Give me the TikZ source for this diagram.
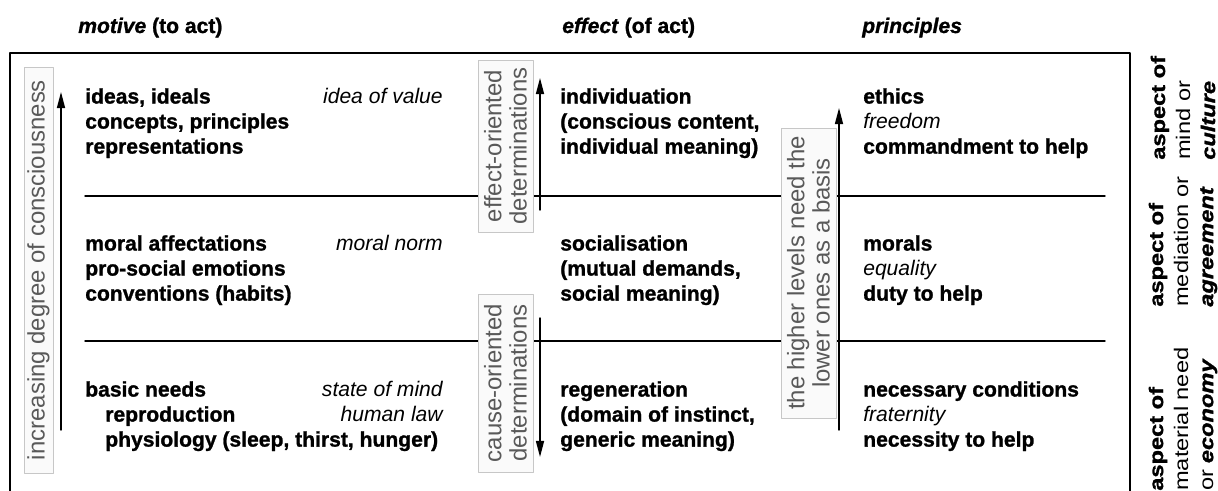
\documentclass[tikz,border=0pt]{standalone}
\usepackage{fontspec}
\usepackage{graphicx}
\setmainfont{Liberation Sans}[BoldFeatures={FakeBold=1.2},BoldItalicFeatures={FakeBold=1.2}]
\usetikzlibrary{arrows.meta}

\newcommand{\wideline}[1]{\scalebox{1.2}[1]{#1}}

\tikzset{
  txt/.style={anchor=north west,inner sep=0pt,align=left,font=\fontsize{15}{17.8}\selectfont\bfseries},
  itx/.style={anchor=north east,inner sep=0pt,align=right,font=\fontsize{15}{17.8}\selectfont\itshape},
  hd/.style={anchor=base west,inner sep=0pt,font=\fontsize{15}{17.8}\selectfont\bfseries},
  gbox/.style={draw=black!22,fill=black!2,text=black!65,rotate=90,align=center,inner sep=0pt,font=\fontsize{17}{18}\selectfont},
  side/.style={rotate=90,anchor=west,align=left,inner sep=0pt,font=\fontsize{14}{17.8}\selectfont},
  frame/.style={line width=1.2pt},
  rule/.style={line width=1pt},
  up/.style={line width=1pt,-{Triangle[length=4mm,width=2mm]}}
}

\begin{document}
\begin{tikzpicture}[x=0.025cm,y=-0.025cm,line cap=round,line join=round]
\useasboundingbox (0,0) rectangle (1218,491);
% headings
\node[hd] (motive) at (78,33) {\textit{motive} (to act)};
\node[hd] (effect) at (562,33) {\textit{effect} (of act)};
\node[hd] (princ) at (862,33) {\textit{principles}};
% frame, open at the bottom
\coordinate (fbl) at (10,491);
\coordinate (ftl) at (10,53);
\coordinate (ftr) at (1130,53);
\coordinate (fbr) at (1130,491);
\draw[frame] (fbl) -- (ftl) -- (ftr) -- (fbr);
% level separators
\coordinate (s1w) at (85,196);  \coordinate (s1e) at (1105,196);
\coordinate (s2w) at (85,341);  \coordinate (s2e) at (1105,341);
\draw[rule] (s1w) -- (s1e);
\draw[rule] (s2w) -- (s2e);
% grey boxes
\node[gbox,minimum width=10.15cm,minimum height=0.725cm] (conbox) at (38.5,270)
  {increasing degree of consciousness};
\node[gbox,minimum width=4.3cm,minimum height=1.375cm] (effbox) at (505.5,146)
  {effect-oriented\\determinations};
\node[gbox,minimum width=4.45cm,minimum height=1.375cm] (caubox) at (505.5,383)
  {cause-oriented\\determinations};
\node[gbox,minimum width=7.25cm,minimum height=1.375cm] (basbox) at (808.5,273)
  {the higher levels need the\\lower ones as a basis};
% arrows
\coordinate (c0) at (61,430);  \coordinate (c1) at (61,92);
\coordinate (e0) at (540,210); \coordinate (e1) at (540,78);
\coordinate (k0) at (540,318); \coordinate (k1) at (540,457);
\coordinate (b0) at (839,430); \coordinate (b1) at (839,108);
\draw[up] (c0) -- (c1);
\draw[up] (e0) -- (e1);
\draw[up] (k0) -- (k1);
\draw[up] (b0) -- (b1);
% motive column
\node[txt] (mot1) at (85,88) {ideas, ideals\\concepts, principles\\representations};
\node[txt] (mot2) at (85,235) {moral affectations\\pro-social emotions\\conventions (habits)};
\node[txt] (mot3) at (85,381) {basic needs\\\hspace*{5mm}reproduction\\\hspace*{5mm}physiology (sleep, thirst, hunger)};
\node[itx] (val1) at (443,88) {idea of value};
\node[itx] (val2) at (443,235) {moral norm};
\node[itx] (val3) at (443,381) {state of mind\\human law};
% effect column
\node[txt] (eff1) at (560,88) {individuation\\(conscious content,\\individual meaning)};
\node[txt] (eff2) at (560,235) {socialisation\\(mutual demands,\\social meaning)};
\node[txt] (eff3) at (560,381) {regeneration\\(domain of instinct,\\generic meaning)};
% principles column
\node[txt] (pri1) at (863,88) {ethics\\\textmd{\textit{freedom}}\\commandment to help};
\node[txt] (pri2) at (863,235) {morals\\\textmd{\textit{equality}}\\duty to help};
\node[txt] (pri3) at (863,381) {necessary conditions\\\textmd{\textit{fraternity}}\\necessity to help};
% aspects
\node[side] (asp1) at (1183,160) {\wideline{\textbf{aspect of}}\\\wideline{mind or}\\\wideline{\textbf{\textit{culture}}}};
\node[side] (asp2) at (1183,307) {\wideline{\textbf{aspect of}}\\\wideline{mediation or}\\\wideline{\textbf{\textit{agreement}}}};
\node[side] (asp3) at (1183,491) {\wideline{\textbf{aspect of}}\\\wideline{material need}\\\wideline{or \textbf{\textit{economy}}}};
\end{tikzpicture}
\end{document}
